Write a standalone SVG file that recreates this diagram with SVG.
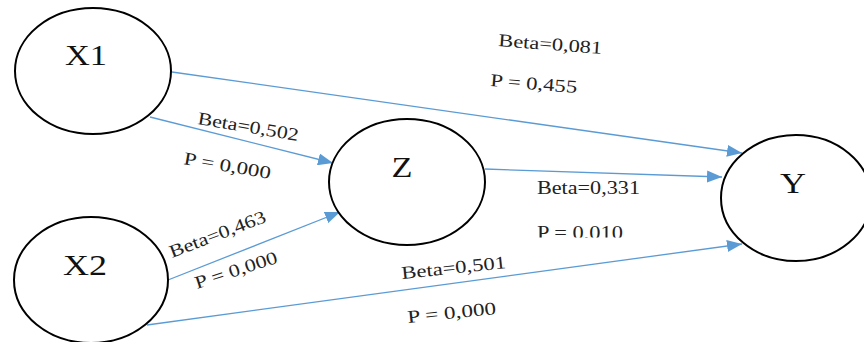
<svg xmlns="http://www.w3.org/2000/svg" width="864" height="342" viewBox="0 0 864 342">
<style>
.node{fill:#fff;stroke:#000;stroke-width:2}
.nl{font-family:"Liberation Serif","Times New Roman",serif;font-size:29px;fill:#111;text-anchor:middle}
.lab{font-family:"Liberation Serif","Times New Roman",serif;font-size:18px;fill:#222}
.edge{stroke:#5B9BD5;stroke-width:1.3;fill:none;marker-end:url(#arr)}
</style>
<defs>
<marker id="arr" markerUnits="userSpaceOnUse" markerWidth="16" markerHeight="12" refX="15" refY="6" orient="auto">
<path d="M0,0 L15,6 L0,12 Z" fill="#5B9BD5"/>
</marker>
<clipPath id="clipP"><rect x="520" y="215" width="130" height="22.5"/></clipPath>
</defs>
<rect width="864" height="342" fill="#fff"/>
<g id="connectors">
<line class="edge" x1="172" y1="72" x2="742" y2="153"/>
<line class="edge" x1="150" y1="117" x2="333" y2="163"/>
<line class="edge" x1="168" y1="280" x2="340" y2="212"/>
<line class="edge" x1="485" y1="169" x2="722" y2="177"/>
<line class="edge" x1="147" y1="325" x2="742" y2="244"/>
</g>
<g id="X1"><ellipse class="node" cx="93" cy="71" rx="78" ry="63"/><text class="nl" x="86" y="65" textLength="42" lengthAdjust="spacingAndGlyphs">X1</text></g>
<g id="X2"><ellipse class="node" cx="91" cy="280" rx="77" ry="63"/><text class="nl" x="85" y="275" textLength="44" lengthAdjust="spacingAndGlyphs">X2</text></g>
<g id="Z"><ellipse class="node" cx="407" cy="182" rx="78" ry="63"/><text class="nl" x="402" y="177" textLength="21" lengthAdjust="spacingAndGlyphs">Z</text></g>
<g id="Y"><ellipse class="node" cx="796" cy="198" rx="75" ry="63"/><text class="nl" x="793" y="193" textLength="26" lengthAdjust="spacingAndGlyphs">Y</text></g>
<g id="labels">
<text class="lab" x="498" y="46" transform="rotate(4.4 498 46)" textLength="104" lengthAdjust="spacingAndGlyphs">Beta=0,081</text>
<text class="lab" x="490" y="86" transform="rotate(4.6 490 86)" textLength="87" lengthAdjust="spacingAndGlyphs">P = 0,455</text>
<text class="lab" x="197" y="124" transform="rotate(9.6 197 124)" textLength="102" lengthAdjust="spacingAndGlyphs">Beta=0,502</text>
<text class="lab" x="183" y="164" transform="rotate(9.8 183 164)" textLength="88" lengthAdjust="spacingAndGlyphs">P = 0,000</text>
<text class="lab" x="172" y="258" transform="rotate(-21 172 258)" textLength="102" lengthAdjust="spacingAndGlyphs">Beta=0,463</text>
<text class="lab" x="197" y="289" transform="rotate(-18 197 289)" textLength="86" lengthAdjust="spacingAndGlyphs">P = 0,000</text>
<text class="lab" x="537" y="194" textLength="103" lengthAdjust="spacingAndGlyphs">Beta=0,331</text>
<text class="lab" x="537" y="239" clip-path="url(#clipP)" textLength="86" lengthAdjust="spacingAndGlyphs">P = 0,010</text>
<text class="lab" x="402" y="279" transform="rotate(-6 402 279)" textLength="105" lengthAdjust="spacingAndGlyphs">Beta=0,501</text>
<text class="lab" x="408" y="323" transform="rotate(-5.8 408 323)" textLength="89" lengthAdjust="spacingAndGlyphs">P = 0,000</text>
</g>
</svg>
